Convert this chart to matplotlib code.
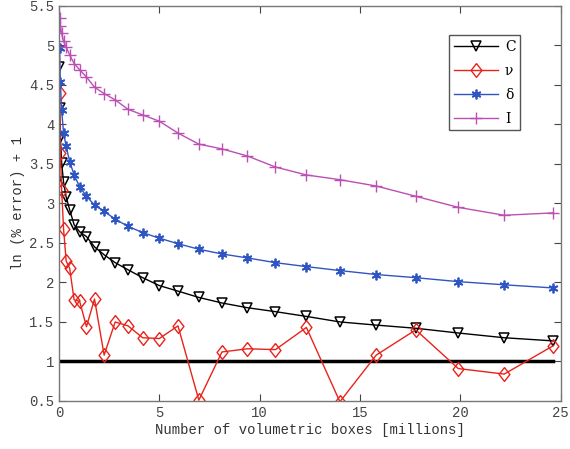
import matplotlib
matplotlib.use("Agg")
import matplotlib.pyplot as plt

# x positions: number of volumetric boxes in millions
x_boxes = [0.009, 0.030, 0.069, 0.133, 0.227, 0.358, 0.531, 0.754, 1.03, 1.37,
           1.77, 2.25, 2.80, 3.44, 4.17, 5.00, 5.93, 6.97, 8.12, 9.39,
           10.79, 12.33, 14.00, 15.81, 17.78, 19.90, 22.19, 24.64]

err_c = [4.72, 4.21, 3.83, 3.51, 3.27, 3.08, 2.92, 2.73, 2.64, 2.58,
         2.45, 2.35, 2.25, 2.16, 2.06, 1.96, 1.89, 1.81, 1.74, 1.68,
         1.63, 1.57, 1.50, 1.46, 1.42, 1.36, 1.30, 1.26]

err_nu = [4.40, 3.64, 3.17, 2.68, 2.27, 2.18, 1.78, 1.76, 1.44,
          1.79, 1.08, 1.50, 1.45, 1.30, 1.29, 1.45, 0.51, 1.12, 1.16,
          1.15, 1.43, 0.49, 1.08, 1.40, 0.91, 0.84, 1.20]

err_delta = [4.97, 4.53, 4.18, 3.89, 3.72, 3.53, 3.36, 3.21, 3.09,
             2.98, 2.90, 2.80, 2.71, 2.63, 2.56, 2.49, 2.42, 2.36, 2.31,
             2.25, 2.20, 2.15, 2.10, 2.06, 2.01, 1.97, 1.93]

err_i = [5.35, 5.24, 5.15, 5.05, 4.98, 4.88, 4.77, 4.69, 4.60,
         4.47, 4.39, 4.31, 4.19, 4.12, 4.04, 3.89, 3.75, 3.69, 3.60,
         3.46, 3.36, 3.30, 3.22, 3.09, 2.95, 2.85, 2.88]

ref_x = [0, 24.64]
ref_y = [1, 1]

mono = "Liberation Mono"
# matlab style diamond, a bit taller than wide
diamond = [(0, 1), (0.78, 0), (0, -1), (-0.78, 0), (0, 1)]

fig = plt.figure(figsize=(5.7, 4.49), dpi=100)
ax = fig.add_axes([0.1035, 0.107, 0.880, 0.880])

# reference line first so the curves sit on top
ax.plot(ref_x, ref_y, color="k", linewidth=2.5)

ax.plot(x_boxes, err_c, color="k", marker="v", markersize=7, fillstyle="none",
        markeredgewidth=1.1, linewidth=1, label="C")
ax.plot(x_boxes[1:], err_nu, color="#e8231c", marker=diamond, markersize=10,
        markerfacecolor="none", markeredgewidth=1.0, linewidth=1, label="\u03bd")
ax.plot(x_boxes[1:], err_delta, color="#2f55c2", marker=(6, 2, 0), markersize=7,
        markeredgewidth=1.3, linewidth=1, label="\u03b4")
ax.plot(x_boxes[1:], err_i, color="#bb4fb3", marker="+", markersize=8,
        markeredgewidth=1.0, linewidth=1, label="I")

ax.set_xlim(0, 25)
ax.set_ylim(0.5, 5.5)
ax.set_xticks([0, 5, 10, 15, 20, 25])
ax.set_yticks([0.5, 1, 1.5, 2, 2.5, 3, 3.5, 4, 4.5, 5, 5.5])
ax.set_yticklabels(["0.5", "1", "1.5", "2", "2.5", "3", "3.5", "4", "4.5", "5", "5.5"])
ax.tick_params(direction="in", top=True, right=True, length=5, width=0.8,
               labelsize=10, colors="#444444")
for lab in ax.get_xticklabels() + ax.get_yticklabels():
    lab.set_family(mono)
for sp in ax.spines.values():
    sp.set_color("#777777")
    sp.set_linewidth(1.0)

ax.set_xlabel("Number of volumetric boxes [millions]", family=mono, fontsize=10,
              color="#333333", labelpad=2)
ax.set_ylabel("ln (% error) + 1", family=mono, fontsize=10, color="#333333", labelpad=3)

leg = ax.legend(loc="upper right", bbox_to_anchor=(0.920, 0.927), handlelength=3.2,
                prop={"family": "DejaVu Serif", "size": 10}, fancybox=False,
                framealpha=1, borderpad=0.35, labelspacing=0.72, handletextpad=0.5,
                borderaxespad=0)
leg.get_frame().set_edgecolor("#555555")
leg.get_frame().set_linewidth(1.0)

fig.savefig("out.png", dpi=100)
